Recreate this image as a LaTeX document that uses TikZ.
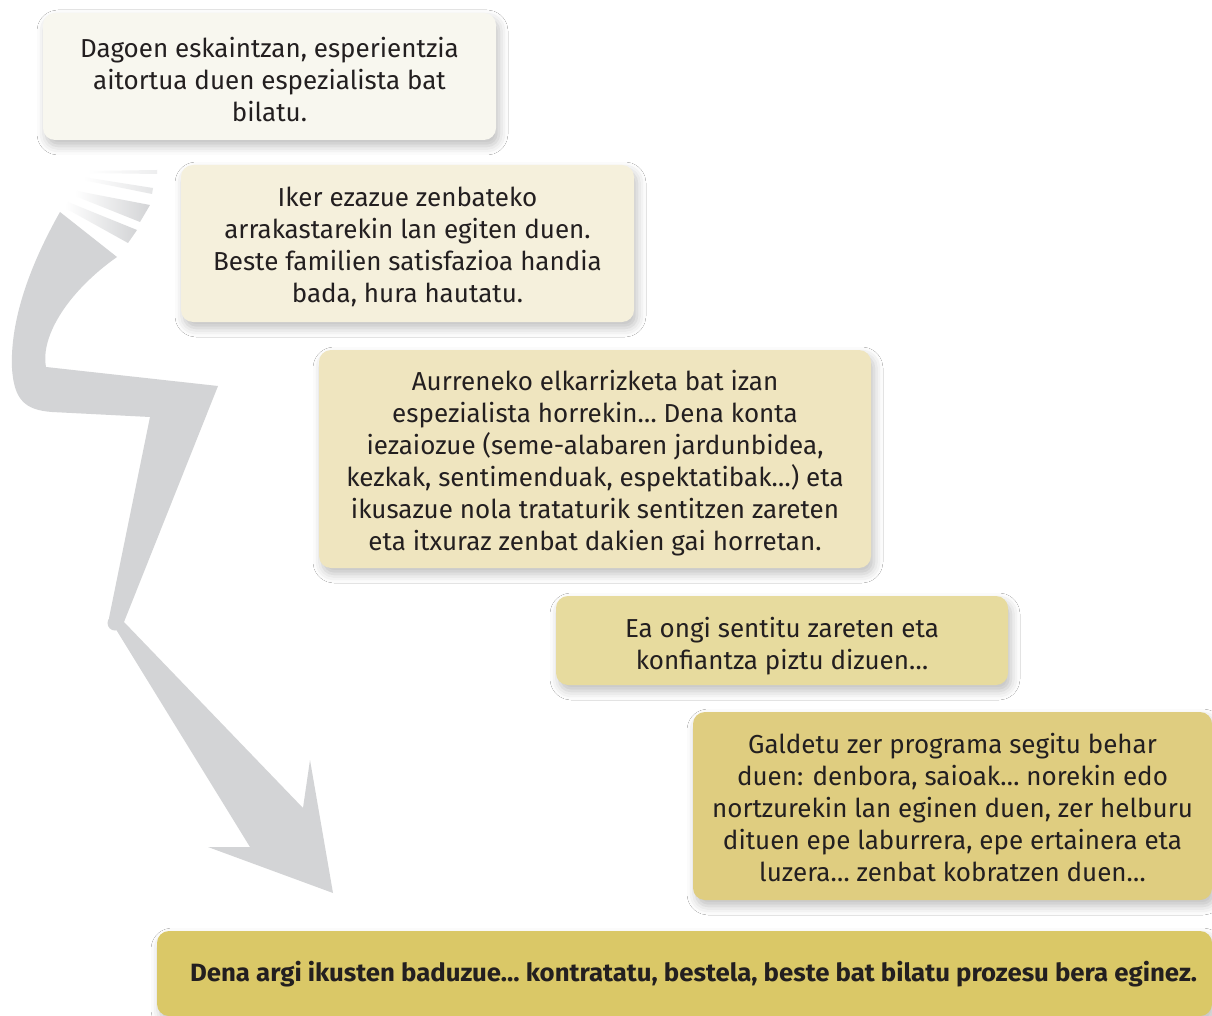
\documentclass[tikz,border=0pt]{standalone}
\usepackage{fontspec}
\setmainfont{Fira Sans}
\usetikzlibrary{shadows.blur}
\definecolor{txt}{HTML}{231F20}
\definecolor{ag}{HTML}{D3D4D6}
\definecolor{c1}{HTML}{F8F7EF}
\definecolor{c2}{HTML}{F5F0DC}
\definecolor{c3}{HTML}{EFE5BF}
\definecolor{c4}{HTML}{E7DB9E}
\definecolor{c5}{HTML}{DFCD80}
\definecolor{c6}{HTML}{DAC867}
\newcommand{\toppush}[1]{\rule{0pt}{#1}}
\begin{document}
\begin{tikzpicture}[x=1pt,y=-1pt,
  box/.style={rectangle, rounded corners=12pt, inner sep=0pt, align=center,
    text=txt, font=\fontsize{26}{32}\selectfont,
    blur shadow={shadow xshift=3pt, shadow yshift=-6pt, shadow blur radius=9pt, shadow opacity=25}}]
\useasboundingbox[fill=white] (0,0) rectangle (1212,1016);
% grey zig-zag arrow
\fill[ag] (60,212) .. controls (30,265) and (10,320) .. (12,368)
  .. controls (14,400) and (25,410) .. (52,412) -- (150,417) -- (109,618)
  -- (250,847) -- (208,847) -- (333,893) -- (310,760) -- (303,808)
  -- (124,622) -- (218,386) -- (46,367) .. controls (40,335) and (70,290) .. (117,257) -- cycle;
\fill[ag] (115,623) circle (7.5);
\fill[white,opacity=0.7] (68,334) .. controls (44,352) and (50,368) .. (102,372)
  .. controls (66,366) and (56,354) .. (68,334) -- cycle;
% streaks
\shade[left color=white, right color=ag!40] (87,171) -- (157,170) -- (157,174) -- (87,173) -- cycle;
\shade[left color=white, right color=ag!60] (83,177) -- (153,188) -- (152,194) -- (83,180) -- cycle;
\shade[left color=white, right color=ag] (77,191) -- (150,205) -- (140,222) -- (75,196) -- cycle;
\shade[left color=white, right color=ag] (68,202) -- (137,230) -- (128,243) -- (65,208) -- cycle;
% boxes
\node[box, fill=c1, minimum width=453pt, minimum height=127pt] (b1) at (269.5,76.5)
  {\toppush{27pt}Dagoen eskaintzan, esperientzia\\aitortua duen espezialista bat\\bilatu.};
\node[box, fill=c2, minimum width=453pt, minimum height=157pt] (b2) at (407.5,243.5)
  {\toppush{26pt}Iker ezazue zenbateko\\arrakastarekin lan egiten duen.\\Beste familien satisfazioa handia\\bada, hura hautatu.};
\node[box, fill=c3, minimum width=552pt, minimum height=218pt] (b3) at (595,459)
  {\toppush{29pt}Aurreneko elkarrizketa bat izan\\espezialista horrekin… Dena konta\\iezaiozue (seme-alabaren jardunbidea,\\kezkak, sentimenduak, espektatibak…) eta\\ikusazue nola trataturik sentitzen zareten\\eta itxuraz zenbat dakien gai horretan.};
\node[box, fill=c4, minimum width=452pt, minimum height=89pt] (b4) at (782,640.5)
  {\toppush{32pt}Ea ongi sentitu zareten eta\\konfiantza piztu dizuen…};
\node[box, fill=c5, minimum width=519pt, minimum height=188pt] (b5) at (952.5,806)
  {\toppush{24pt}Galdetu zer programa segitu behar\\duen: denbora, saioak… norekin edo\\nortzurekin lan eginen duen, zer helburu\\dituen epe laburrera, epe ertainera eta\\luzera… zenbat kobratzen duen…};
\node[box, fill=c6, minimum width=1055pt, minimum height=85pt] (b6) at (684.5,973.5) {};
\node[text=txt, inner sep=0pt, font=\fontsize{25}{30}\selectfont\bfseries] (t6) at (693.5,974)
  {\resizebox{1007pt}{\height}{Dena argi ikusten baduzue… kontratatu, bestela, beste bat bilatu prozesu bera eginez.}};
\end{tikzpicture}
\end{document}
